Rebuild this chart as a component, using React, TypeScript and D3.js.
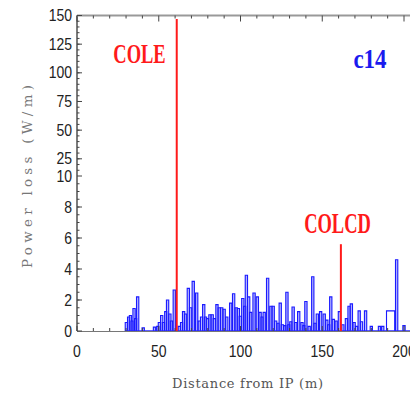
import React from 'react';
import * as d3 from 'd3';

// power loss per bin (bin centre in m, value in W/m)
const lossX = [
  30.2, 31.6, 32.7, 33.7, 34.9, 35.9, 37.1, 40.5,
  47.4, 49.4, 50.4, 51.8, 52.9, 54.3, 55.4, 56.8, 57.8, 59.5,
  62.6, 64, 65.2, 66.4, 68.1, 69.5, 71.1, 73.2, 74.8, 76.2, 77.5, 78.6, 79.8,
  81.3, 82.7, 84, 85.6, 87, 88.5, 90, 91.6, 94, 95.8, 97.4, 98.7, 99.9,
  101.4, 102.6, 103.6, 105, 106.2, 108.3, 110.3, 112, 113.2, 114.5, 116.6,
  118.6, 120, 121.5, 123, 124.3, 125.6, 127.2, 128.4, 129.6, 130.8, 132.2,
  133.8, 135.6, 137.6, 138.8, 140, 142, 144.2, 145.6, 147, 149, 151.2, 152.8,
  154, 155.2, 156.8, 158.5, 160.5, 162.6, 164.8, 166.4, 167.8, 169.5, 171,
  172.6, 174, 176.5, 180, 185, 187, 195.5, 200,
];
const lossY = [
  0.55, 0.9, 1.0, 0.65, 1.45, 0.8, 2.2, 0.2,
  0.25, 0.3, 0.55, 1.0, 0.55, 1.25, 2.0, 1.1, 0.65, 2.65,
  0.3, 0.55, 1.25, 1.1, 2.75, 1.5, 3.2, 2.45, 0.65, 0.9, 1.7, 0.9, 0.8,
  1.05, 1.05, 0.8, 1.7, 1.5, 1.5, 1.4, 0.9, 1.8, 2.4, 1.5, 1.45, 0.95,
  2.1, 1.6, 3.6, 2.2, 1.2, 2.45, 2.2, 1.2, 0.9, 1.2, 3.4,
  1.6, 1.6, 0.65, 0.5, 1.8, 0.4, 0.35, 2.5, 0.4, 0.6, 1.55,
  0.55, 1.25, 0.55, 0.35, 1.9, 0.3, 3.5, 0.5, 1.1, 1.25, 1.1, 0.7,
  0.4, 2.2, 0.75, 0.65, 1.25, 0.4, 0.8, 1.6, 1.75, 0.55, 0.3,
  1.3, 0.6, 1.3, 0.3, 0.3, 0.3, 4.6, 0.35,
];
// the one wide bin near 190 m
const wideBinX = [189.3, 194.3];
const wideBinY = 1.3;

const collimatorNames = ['COLE', 'COLCD'];
const collimatorX = [61, 161.4];
const collimatorTop = [147, 5.6];

const xTicks = [0, 50, 100, 150, 200];
const yLowTicks = [0, 2, 4, 6, 8];
const yHighTicks = [10, 25, 50, 75, 100, 125, 150];

const W = 410;
const H = 394;
const binW = 1.4;

const x = d3.scaleLinear().domain([0, 200]).range([77, 404]);
const yLow = d3.scaleLinear().domain([0, 10]).range([331, 176]);
const yHigh = d3.scaleLinear().domain([10, 150]).range([176, 15.5]);
const y = (v: number) => (v <= 10 ? yLow(v) : yHigh(v));

const tickFont = "'Liberation Sans', Arial, sans-serif";
const serif = "'Liberation Serif', 'Times New Roman', serif";
const axisColor = '#444';

const barPath = (x0: number, x1: number, v: number) =>
  `M${x(x0)},${y(0)}V${y(v)}H${x(x1)}V${y(0)}`;

export default function App() {
  const minorLow = d3.range(0.5, 10, 0.5);
  const minorHigh = d3.range(15, 150, 5);
  const minorX = d3.range(0, 211, 10);

  return (
    <svg width={W} height={H} style={{ position: 'absolute', left: 0, top: 0, background: '#fff' }}>
      {/* histogram */}
      <g stroke="#1a1aff" strokeWidth={1.1} fill="#7a7aff" fillOpacity={0.55}>
        {lossX.map((c, i) => (
          <path key={i} d={barPath(c - binW / 2, c + binW / 2, lossY[i])} />
        ))}
        <path d={barPath(wideBinX[0], wideBinX[1], wideBinY)} fill="none" />
      </g>
      <line x1={x(29.5)} x2={W} y1={y(0)} y2={y(0)} stroke="#2a2aff" strokeWidth={1.5} />

      {/* frame: left and bottom axes, top edge */}
      <g stroke={axisColor} strokeWidth={1}>
        <line x1={x(0)} x2={x(0)} y1={yHigh(150)} y2={y(0)} strokeWidth={1.4} />
        <line x1={x(0)} x2={W} y1={y(0) + 0.5} y2={y(0) + 0.5} stroke="#777" />
        <line x1={x(0)} x2={W} y1={yHigh(150)} y2={yHigh(150)} stroke="#999" strokeWidth={2.2} />
        {minorLow.map(v => (
          <line key={'ml' + v} x1={x(0)} x2={x(0) + 2.5} y1={yLow(v)} y2={yLow(v)} />
        ))}
        {minorHigh.map(v => (
          <line key={'mh' + v} x1={x(0)} x2={x(0) + 2.5} y1={yHigh(v)} y2={yHigh(v)} />
        ))}
        {yLowTicks.map(v => (
          <line key={'tl' + v} x1={x(0)} x2={x(0) + 5} y1={yLow(v)} y2={yLow(v)} />
        ))}
        {yHighTicks.map(v => (
          <line key={'th' + v} x1={x(0)} x2={x(0) + 5} y1={yHigh(v)} y2={yHigh(v)} />
        ))}
        {minorX.map(v => (
          <g key={'mx' + v}>
            <line x1={x(v)} x2={x(v)} y1={y(0)} y2={y(0) - (v % 50 === 0 ? 5 : 3)} />
            <line x1={x(v)} x2={x(v)} y1={yHigh(150)} y2={yHigh(150) + (v % 50 === 0 ? 6 : 3)} />
          </g>
        ))}
      </g>

      {/* tick labels */}
      <g fontFamily={tickFont} fontSize={14} fill="#222">
        {yLowTicks.map(v => (
          <text key={'ll' + v} transform={`translate(72,${yLow(v) + 5.5}) scale(1,1.15)`} textAnchor="end">
            {v}
          </text>
        ))}
        {yHighTicks.map(v => (
          <text key={'lh' + v} transform={`translate(72,${yHigh(v) + 5.5}) scale(1,1.15)`} textAnchor="end">
            {v}
          </text>
        ))}
        {xTicks.map(v => (
          <text key={'lx' + v} transform={`translate(${x(v)},357) scale(1,1.15)`} textAnchor="middle">
            {v}
          </text>
        ))}
      </g>

      {/* axis titles */}
      <text
        x={x(0) + 95}
        y={388}
        fontFamily="'DejaVu Serif', serif"
        fontSize={13}
        fill="#555"
        textLength={151}
        lengthAdjust="spacing"
      >
        Distance from IP (m)
      </text>
      <text
        transform={`translate(32,${(85 + 268) / 2}) rotate(-90)`}
        textAnchor="middle"
        fontFamily="'DejaVu Serif', serif"
        fontSize={13.5}
        fill="#777"
        textLength={183}
        lengthAdjust="spacing"
      >
        Power loss (W/m)
      </text>

      {/* collimators */}
      {collimatorX.map((c, i) => (
        <line key={'c' + i} x1={x(c)} x2={x(c)} y1={y(collimatorTop[i])} y2={y(0)} stroke="#ff1a1a" strokeWidth={2} />
      ))}
      <g fontFamily={serif} fontWeight="bold" fill="#ff1a1a" fontSize={18.5} textAnchor="middle">
        <text transform={`translate(139.5,63) scale(1,1.45)`}>{collimatorNames[0]}</text>
        <text transform={`translate(337.5,233) scale(1,1.55)`}>{collimatorNames[1]}</text>
      </g>
      <text
        transform="translate(370,68) scale(1,1.2)"
        textAnchor="middle"
        fontFamily={serif}
        fontWeight="bold"
        fontSize={23}
        fill="#1a1aee"
      >
        c14
      </text>
    </svg>
  );
}
